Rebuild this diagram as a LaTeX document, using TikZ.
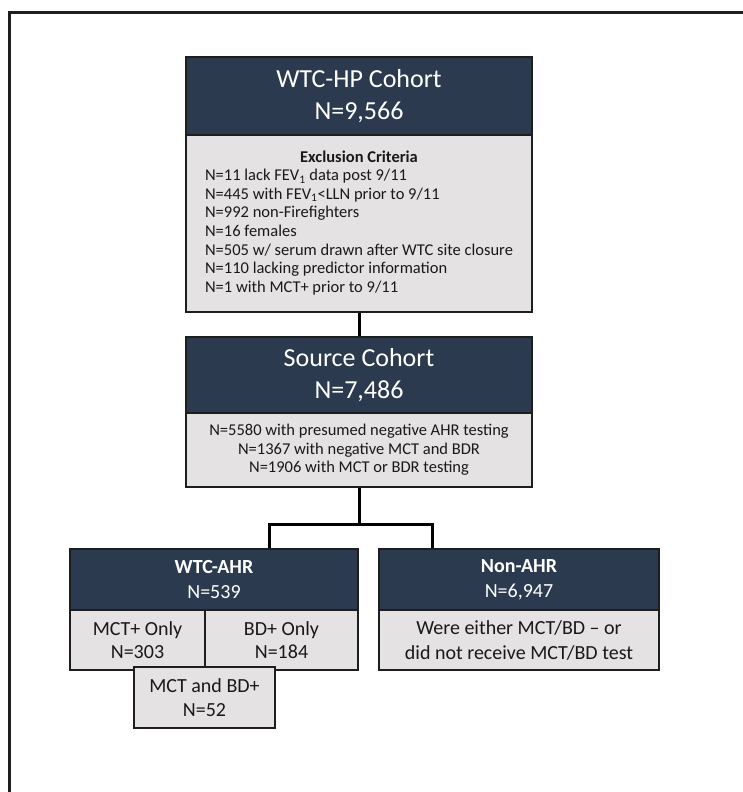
\documentclass[tikz,border=0pt]{standalone}
\usepackage{fontspec}
\setmainfont{Carlito}
\definecolor{navy}{RGB}{44,58,79}
\definecolor{boxgray}{RGB}{228,226,226}
\definecolor{edge}{RGB}{30,30,30}
\definecolor{ink}{RGB}{25,25,25}
\begin{document}
\begin{tikzpicture}[x=1pt,y=-1pt,
  dark/.style={draw=edge, line width=1.5pt, fill=navy, text=white, inner sep=0pt, align=center},
  light/.style={draw=edge, line width=1.5pt, fill=boxgray, text=ink, inner sep=0pt, align=center},
  big/.style={font={\fontsize{26}{32}\selectfont}},
  small/.style={font={\fontsize{16.5}{18.6}\selectfont}},
  mid/.style={font={\fontsize{20}{25}\selectfont}},
  midtight/.style={font={\fontsize{20}{23.5}\selectfont}},
  link/.style={line width=3pt, draw=black}]
\useasboundingbox (0,0) rectangle (743,792);
\draw[line width=3pt, draw=edge] (9.5,792) -- (9.5,12.5) -- (743,12.5);

\node[dark, big, minimum width=346pt, minimum height=78pt] (hp) at (359,96) {WTC-HP Cohort\\N=9,566};
\node[light, small, minimum width=346pt, minimum height=177pt] (excl) at (359,223.5)
 {\begin{tabular}{@{}l@{}}
  \multicolumn{1}{@{}c@{}}{\bfseries Exclusion Criteria}\\
  N=11 lack FEV\textsubscript{1} data post 9/11\\
  N=445 with FEV\textsubscript{1}<LLN prior to 9/11\\
  N=992 non-Firefighters\\
  N=16 females\\
  N=505 w/ serum drawn after WTC site closure\\
  N=110 lacking predictor information\\
  N=1 with MCT+ prior to 9/11
 \end{tabular}};

\node[dark, big, minimum width=346pt, minimum height=76pt] (src) at (359,375) {Source Cohort\\N=7,486};
\node[light, small, minimum width=346pt, minimum height=74pt] (srcg) at (359,450)
 {N=5580 with presumed negative AHR testing\\N=1367 with negative MCT and BDR\\N=1906 with MCT or BDR testing};

\node[dark, mid, minimum width=288pt, minimum height=61pt] (ahr) at (214,579.5) {\textbf{WTC-AHR}\\N=539};
\node[light, midtight, minimum width=135pt, minimum height=60pt] (mct) at (137.5,640) {MCT+ Only\\N=303};
\node[light, midtight, minimum width=153pt, minimum height=60pt] (bd) at (281.5,640) {BD+ Only\\N=184};
\node[light, midtight, minimum width=141pt, minimum height=61pt] (both) at (204.5,697.5) {MCT and BD+\\N=52};

\node[dark, mid, minimum width=280pt, minimum height=61pt] (non) at (519,579.5) {\textbf{Non-AHR}\\N=6,947};
\node[light, mid, minimum width=280pt, minimum height=60pt] (nong) at (519,640) {Were either MCT/BD -- or\\did not receive MCT/BD test};

\coordinate (jl) at (269,524);
\coordinate (jr) at (432,524);
\draw[link] (excl.south) -- (src.north);
\draw[link] (srcg.south) -- (srcg.south |- jl);
\draw[link] (ahr.north -| jl) -- (jl) -- (jr) -- (non.north -| jr);
\end{tikzpicture}
\end{document}
